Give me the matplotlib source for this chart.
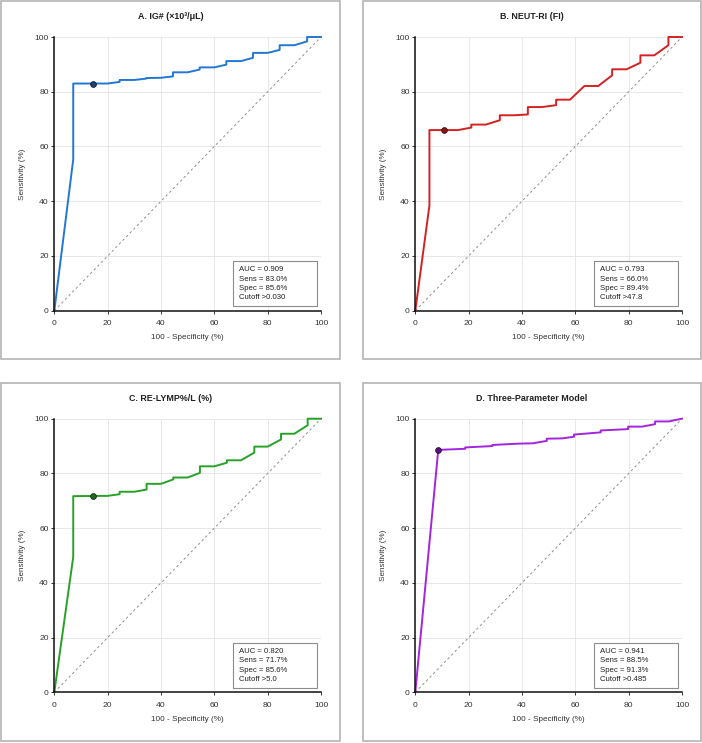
import matplotlib
matplotlib.use("Agg")
import matplotlib.pyplot as plt
from matplotlib.patches import Rectangle

plt.rcParams["font.family"] = ["Liberation Sans", "DejaVu Sans"]

# ROC curve points: (100 - specificity, sensitivity)
ig_fpr = [0, 7.1, 7.1, 20, 24.5, 24.5, 30, 34.5, 34.5, 40, 44.5, 44.5, 50, 54.5, 54.5, 60,
          64.5, 64.5, 70, 74.5, 74.5, 80, 84.5, 84.5, 90, 94.8, 94.8, 100]
ig_tpr = [0, 55.3, 83.0, 83.0, 83.6, 84.3, 84.3, 84.8, 85.0, 85.1, 85.6, 87.1, 87.1, 88.1, 88.9, 88.9,
          89.9, 91.2, 91.2, 92.4, 94.2, 94.2, 95.3, 97.0, 97.0, 98.4, 100, 100]

neut_fpr = [0, 5.3, 5.3, 16, 21, 21, 26.5, 31.7, 31.7, 37, 42.2, 42.2, 47.5, 52.8, 52.8, 58,
            63.4, 68.6, 73.8, 73.8, 79.2, 84.4, 84.4, 89.6, 94.9, 94.9, 100]
neut_tpr = [0, 38.5, 66.0, 66.0, 66.9, 68.0, 68.0, 69.6, 71.4, 71.4, 71.7, 74.4, 74.4, 75.1, 77.1, 77.1,
            82.1, 82.1, 86.0, 88.2, 88.2, 90.6, 93.3, 93.3, 97.0, 100, 100]

lymp_fpr = [0, 7.1, 7.1, 20, 24.5, 24.5, 30, 34.6, 34.6, 40, 44.6, 44.6, 50, 54.6, 54.6, 60,
            64.7, 64.7, 70, 75, 75, 80, 85, 85, 90, 95, 95, 100]
lymp_tpr = [0, 49.5, 71.7, 71.8, 72.4, 73.3, 73.3, 74.1, 76.2, 76.2, 77.8, 78.5, 78.5, 80.2, 82.6, 82.6,
            83.9, 84.8, 84.8, 87.6, 89.8, 89.8, 92.4, 94.5, 94.5, 97.6, 100, 100]

model_fpr = [0, 8.6, 18.7, 18.7, 28.9, 28.9, 39.2, 44, 49.3, 49.3, 55, 59.5, 59.5, 69.5, 69.5,
             79.8, 79.8, 85, 89.9, 89.9, 95, 100]
model_tpr = [0, 88.6, 89.0, 89.5, 90.0, 90.4, 90.9, 91.0, 91.9, 92.7, 92.8, 93.4, 94.2, 95.0, 95.7,
             96.2, 97.1, 97.1, 98.0, 99.0, 99.0, 100]

titles = ["A. IG# (×10³/μL)", "B. NEUT-RI (FI)", "C. RE-LYMP%/L (%)", "D. Three-Parameter Model"]
curves = [(ig_fpr, ig_tpr), (neut_fpr, neut_tpr), (lymp_fpr, lymp_tpr), (model_fpr, model_tpr)]
colors = ["#2277d4", "#d42222", "#27a127", "#a325dc"]
dot_colors = ["#1d3f78", "#8a1414", "#1e6a1e", "#5e0f82"]
cut_points = [(14.4, 83.0), (10.6, 66.0), (14.4, 71.7), (8.6, 88.5)]
stats = [
    ["AUC = 0.909", "Sens = 83.0%", "Spec = 85.6%", "Cutoff >0.030"],
    ["AUC = 0.793", "Sens = 66.0%", "Spec = 89.4%", "Cutoff >47.8"],
    ["AUC = 0.820", "Sens = 71.7%", "Spec = 85.6%", "Cutoff >5.0"],
    ["AUC = 0.941", "Sens = 88.5%", "Spec = 91.3%", "Cutoff >0.485"],
]

W, H = 702, 743
fig = plt.figure(figsize=(W / 100, H / 100), dpi=100)

# panel frames and axes boxes, in pixels (left, top, right, bottom)
frames = [(1, 1, 340, 359), (362.7, 1, 701, 359), (1, 382.7, 340, 741), (362.7, 382.7, 701, 741)]
axboxes = [(54.3, 37, 321, 310.7), (415.3, 37, 682, 310.7),
           (54.3, 418.7, 321, 692.3), (415.3, 418.7, 682, 692.3)]

for i in range(4):
    fl, ft, fr, fb = frames[i]
    fig.patches.append(Rectangle((fl / W, 1 - fb / H), (fr - fl) / W, (fb - ft) / H,
                                 transform=fig.transFigure, fill=False,
                                 edgecolor="#b4b4b4", linewidth=1.2))
    fig.text((fl + fr) / 2 / W, 1 - (ft + 15.8) / H, titles[i], ha="center", va="center",
             fontsize=6.4, fontweight="bold", color="#222222")

    l, t, r, b = axboxes[i]
    ax = fig.add_axes([l / W, 1 - b / H, (r - l) / W, (b - t) / H])
    ax.set_xlim(0, 100)
    ax.set_ylim(0, 100)
    ax.set_xticks(range(0, 101, 20))
    ax.set_yticks(range(0, 101, 20))
    ax.grid(True, color="#e4e4e4", linewidth=0.6)
    ax.set_axisbelow(True)
    for side in ["top", "right"]:
        ax.spines[side].set_visible(False)
    for side in ["left", "bottom"]:
        ax.spines[side].set_color("#111111")
        ax.spines[side].set_linewidth(1.1)
    ax.tick_params(labelsize=6.1, length=2.5, width=0.7, pad=1.5, colors="#333333")
    ax.tick_params(axis="x", pad=4.2)
    ax.set_xlabel("100 - Specificity (%)", fontsize=5.9, color="#333333", labelpad=5)
    ax.set_ylabel("Sensitivity (%)", fontsize=5.9, color="#333333", labelpad=6)

    ax.plot([0, 100], [0, 100], linestyle=(0, (2.5, 2.8)), color="#8f8f8f", linewidth=0.7)
    fpr, tpr = curves[i]
    ax.plot(fpr, tpr, color=colors[i], linewidth=1.4, clip_on=False)
    ax.plot(*cut_points[i], marker="o", markersize=4.2, color=dot_colors[i],
            markeredgecolor="#111111", markeredgewidth=0.5, clip_on=False)

    ax.add_patch(Rectangle((0.670, 0.017), 0.315, 0.164, transform=ax.transAxes,
                           facecolor="white", edgecolor="#8c8c8c", linewidth=0.8, zorder=5))
    for k, line in enumerate(stats[i]):
        ax.text(0.6925, 0.149 - k * 0.034, line, transform=ax.transAxes, ha="left", va="center",
                fontsize=5.6, color="#222222", zorder=6)

fig.savefig("out.png", dpi=100, facecolor="white")
